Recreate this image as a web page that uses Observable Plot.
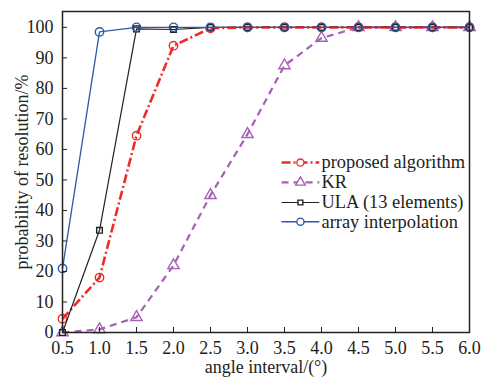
<!DOCTYPE html>
<html><head><meta charset="utf-8">
<script src="https://cdn.jsdelivr.net/npm/d3@7"></script>
<script src="https://cdn.jsdelivr.net/npm/@observablehq/plot@0.6"></script>
<style>body{margin:0;background:#fff}
svg, svg text{font-family:"Liberation Serif","Times New Roman",serif !important;}</style>
</head><body><div id="chart"></div>
<script>
const angles = [0.5,1.0,1.5,2.0,2.5,3.0,3.5,4.0,4.5,5.0,5.5,6.0];
const proposed = [4.5,18,64.5,94,99.7,100,100,100,100,100,100,100];
const kr = [0,1,5,22,45,65,87.5,96.5,100,100,100,100];
const ula = [0,33.5,99.5,99.3,100,100,100,100,100,100,100,100];
const interp = [21,98.5,100,100,100,100,100,100,100,100,100,100];
const xTicks = angles;
const yTicks = [0,10,20,30,40,50,60,70,80,90,100];
const seriesNames = ["proposed algorithm","KR","ULA (13 elements)","array interpolation"];
const colors = ["#ee2b2b","#a660b5","#222222","#2b5aa8"];
const dashes = ["9,3,2,3","7,5",null,null];
const widths = [2.6,2.2,1.2,1.3];
const symbols = ["circle","triangle","square","circle"];
const radii = [4.2,4.2,3.2,4.2];
const seriesVals = [proposed,kr,ula,interp];
// legend placement in data coordinates
const legX = [3.46,3.97];
const legTextX = 4.0;
const legY = [55.7,49.2,42.6,36.3];

const order = [1,0,2,3];
const marks = [];
for (const i of order) {
  const data = angles.map((a,j)=>({x:a,y:seriesVals[i][j]}));
  marks.push(Plot.line(data,{x:"x",y:"y",stroke:colors[i],strokeWidth:widths[i],strokeDasharray:dashes[i],strokeLinecap:"butt"}));
  marks.push(Plot.dot(data,{x:"x",y:"y",stroke:colors[i],strokeWidth:1.4,fill:"none",symbol:symbols[i],r:radii[i]}));
}
const legData = seriesNames.map((n,i)=>({n,i,y:legY[i]}));
for (const d of legData) {
  const i = d.i;
  marks.push(Plot.link([d],{x1:()=>legX[0],x2:()=>legX[1],y1:"y",y2:"y",stroke:colors[i],strokeWidth:widths[i],strokeDasharray:dashes[i]}));
  marks.push(Plot.dot([d],{x:()=> (legX[0]+legX[1])/2,y:"y",stroke:colors[i],fill:"white",strokeWidth:1.4,symbol:symbols[i],r:radii[i]*0.85}));
}
marks.push(Plot.text(legData,{x:()=>legTextX,y:"y",text:"n",textAnchor:"start",fontSize:18.4,fill:"#222"}));
marks.push(Plot.axisX({ticks:xTicks,tickSize:-5,tickPadding:14,tickFormat:d=>d.toFixed(1),fontSize:18,label:"angle interval/(°)",labelAnchor:"center",labelOffset:40,labelArrow:"none",color:"#222"}));
marks.push(Plot.axisY({ticks:yTicks,tickSize:-5,tickPadding:14,fontSize:18,label:"probability of resolution/%",labelAnchor:"center",labelOffset:47,labelArrow:"none",color:"#222"}));
marks.push(Plot.frame({stroke:"#222",strokeWidth:1.5}));

const chart = Plot.plot({
  width:483,height:377,
  marginLeft:62,marginRight:14,marginTop:11,marginBottom:45,
  style:{fontFamily:"'Liberation Serif', serif",fontSize:"18px",color:"#222",background:"#fff"},
  x:{domain:[0.5,6],label:null},
  y:{domain:[0,105.2],label:null},
  marks
});
document.getElementById("chart").appendChild(chart);
</script></body></html>
